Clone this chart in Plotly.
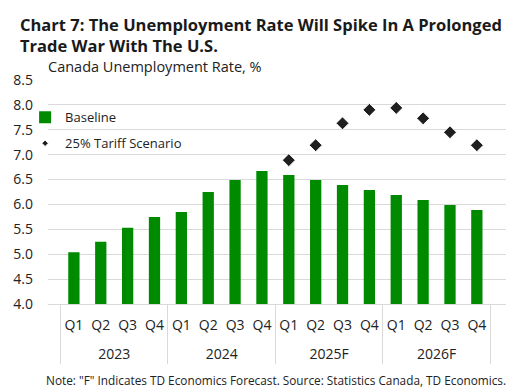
import plotly.graph_objects as go

years = ["2023"] * 4 + ["2024"] * 4 + ["2025F"] * 4 + ["2026F"] * 4
quarters = ["Q1", "Q2", "Q3", "Q4"] * 4
baseline = [5.04, 5.25, 5.53, 5.75, 5.85, 6.25, 6.49, 6.67,
            6.59, 6.49, 6.39, 6.29, 6.19, 6.09, 5.99, 5.89]
tariff = [None] * 8 + [6.89, 7.19, 7.63, 7.90, 7.94, 7.73, 7.45, 7.19]

FONT = "Open Sans"
# marker sizes: drawn points get 10, empty slots 0 (keeps legend glyph small)
diamond_sizes = [10 if v is not None else 0 for v in tariff]
# inner labels get a small invisible second line to open space before the year row
quarter_labels = [q + "<br><span style='font-size:7px'> </span>" for q in quarters]

fig = go.Figure()
fig.add_trace(go.Bar(
    x=[years, quarter_labels], y=baseline, name="Baseline", legendgroup="a",
    marker=dict(color="#008a00", line=dict(width=0)),
))
fig.add_trace(go.Scatter(
    x=[years, quarter_labels], y=tariff, name="25% Tariff Scenario", mode="markers",
    legendgroup="b",
    marker=dict(symbol="diamond", size=diamond_sizes, color="#1f1f1f", opacity=1),
))

fig.update_layout(
    width=518, height=387,
    margin=dict(l=48, r=12, t=80, b=83, autoexpand=False),
    paper_bgcolor="white", plot_bgcolor="white",
    font=dict(family=FONT, size=12, color="#222"),
    bargap=0.58,
    showlegend=True,
    legend=dict(x=-0.05, y=0.90, xanchor="left", yanchor="top",
                bgcolor="rgba(0,0,0,0)", font=dict(size=13, color="#222"),
                itemsizing="trace", traceorder="grouped", tracegroupgap=6, itemwidth=30),
    annotations=[
        dict(text="<b>Chart 7: The Unemployment Rate Will Spike In A Prolonged<br>Trade War With The U.S.</b>",
             xref="paper", yref="paper", x=-0.065, y=1.0, yshift=69, xanchor="left", yanchor="top",
             align="left", showarrow=False, font=dict(size=16.5, color="#1a1a1a")),
        dict(text="Canada Unemployment Rate, %", xref="paper", yref="paper",
             x=-0.005, y=1, yshift=14, xanchor="left", yanchor="middle", showarrow=False,
             font=dict(size=14.5, color="#222")),
        dict(text="Note: \"F\" Indicates TD Economics Forecast. Source: Statistics Canada, TD Economics.",
             xref="paper", yref="paper", x=-0.009, y=0, yshift=-76, xanchor="left", yanchor="middle",
             showarrow=False, font=dict(size=11.8, color="#222")),
    ],
)
fig.update_yaxes(range=[4, 8.5], dtick=0.5, tickformat=".1f", showgrid=True,
                 gridcolor="#d9d9d9", gridwidth=1, zeroline=False, showline=False,
                 ticks="", ticklabelstandoff=14, tickfont=dict(size=14), automargin=False)
fig.update_xaxes(type="multicategory", showline=True, linecolor="#d9d9d9",
                 showdividers=True, dividercolor="#d9d9d9", dividerwidth=1,
                 tickangle=0, tickfont=dict(size=14), ticks="", ticklabelstandoff=8,
                 automargin=False)

fig.write_html("out.html", config={"displayModeBar": False},
               post_script="document.body.style.margin='0';")
